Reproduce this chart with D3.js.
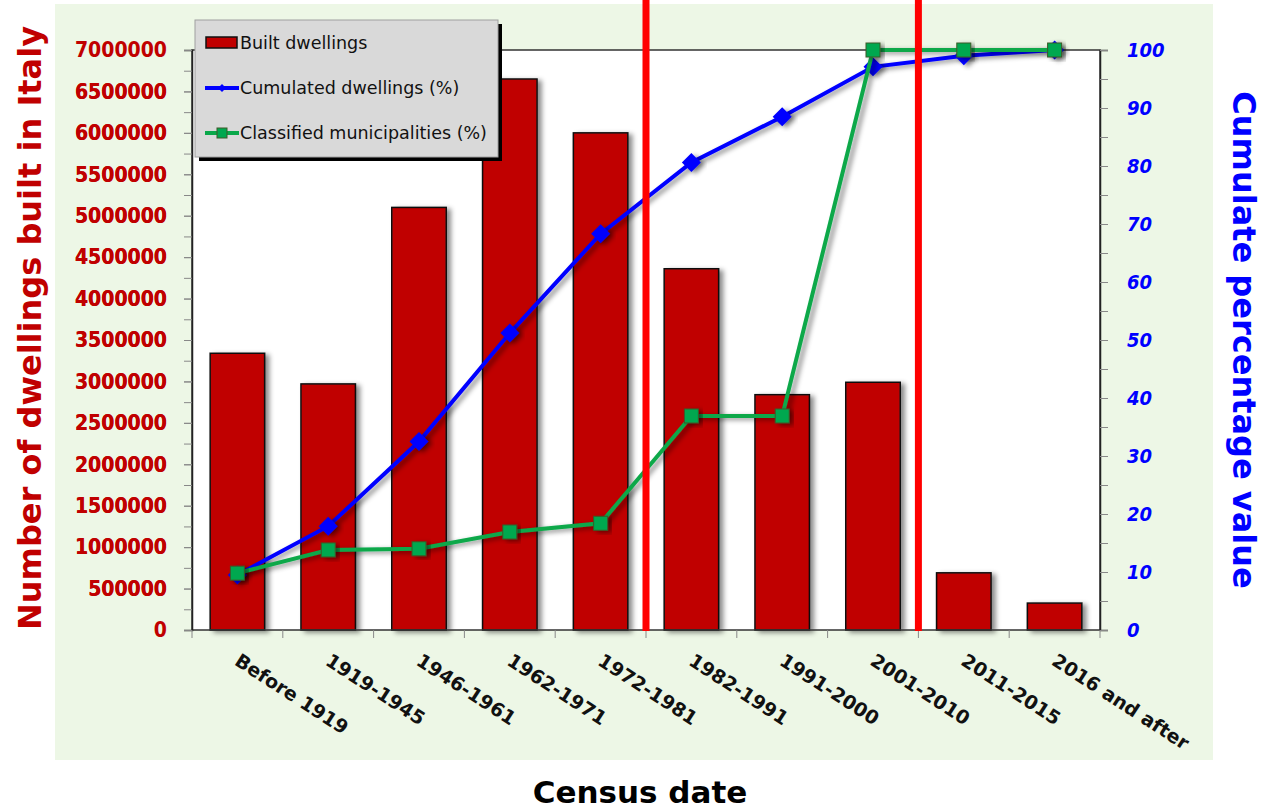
<!DOCTYPE html>
<html>
<head>
<meta charset="utf-8">
<script src="https://cdn.jsdelivr.net/npm/d3@7"></script>
<style>
  body { margin: 0; background: #ffffff; }
  svg { display: block; }
</style>
</head>
<body>
<svg id="chart" width="1263" height="810"></svg>
<script>
// Census periods (x categories)
const periods = ["Before 1919", "1919-1945", "1946-1961", "1962-1971", "1972-1981",
                 "1982-1991", "1991-2000", "2001-2010", "2011-2015", "2016 and after"];
// Dwellings built in each period
const builtDwellings = [3340000, 2970000, 5100000, 6650000, 6000000,
                        4360000, 2840000, 2990000, 690000, 325000];
// Cumulated share of dwellings (%)
const cumulatedPct = [9.5, 17.9, 32.5, 51.2, 68.3, 80.6, 88.5, 97.1, 99.0, 100];
// Share of classified municipalities (%)
const classifiedPct = [9.8, 13.8, 14.0, 16.9, 18.4, 36.9, 36.9, 100, 100, 100];
// Periods after which a red divider is drawn
const dividerAfter = ["1972-1981", "2001-2010"];
// Axis ticks
const leftTicks = [0, 500000, 1000000, 1500000, 2000000, 2500000, 3000000, 3500000,
                   4000000, 4500000, 5000000, 5500000, 6000000, 6500000, 7000000];
const rightTicks = [0, 10, 20, 30, 40, 50, 60, 70, 80, 90, 100];
// Legend entries
const legendLabels = ["Built dwellings", "Cumulated dwellings (%)", "Classified municipalities (%)"];

const svg = d3.select("#chart");
const plot = { left: 192, right: 1100, top: 50, bottom: 630 };

const x = d3.scaleBand().domain(periods).range([plot.left, plot.right]).padding(0);
const yL = d3.scaleLinear().domain([0, 7000000]).range([plot.bottom, plot.top]);
const yR = d3.scaleLinear().domain([0, 100]).range([plot.bottom, plot.top]);
const barW = x.bandwidth() * 0.6;
const cx = d => x(d) + x.bandwidth() / 2;

const defs = svg.append("defs");
const sh = defs.append("filter").attr("id", "shadow")
  .attr("x", "-30%").attr("y", "-30%").attr("width", "160%").attr("height", "160%");
sh.append("feDropShadow").attr("dx", 4).attr("dy", 2).attr("stdDeviation", 2.5)
  .attr("flood-color", "#000").attr("flood-opacity", 0.45);

// Outer panel
svg.append("rect").attr("x", 55).attr("y", 4).attr("width", 1158).attr("height", 756)
  .attr("fill", "#edf7e6");

// Plot area
svg.append("rect").attr("x", plot.left).attr("y", plot.top)
  .attr("width", plot.right - plot.left).attr("height", plot.bottom - plot.top)
  .attr("fill", "#ffffff");

// Bars
svg.append("g").selectAll("rect").data(periods).join("rect")
  .attr("x", d => cx(d) - barW / 2)
  .attr("y", (d, i) => yL(builtDwellings[i]))
  .attr("width", barW)
  .attr("height", (d, i) => plot.bottom - yL(builtDwellings[i]))
  .attr("fill", "#c00000").attr("stroke", "#111").attr("stroke-width", 1.5)
  .attr("filter", "url(#shadow)");

// Plot frame
svg.append("rect").attr("x", plot.left).attr("y", plot.top)
  .attr("width", plot.right - plot.left).attr("height", plot.bottom - plot.top)
  .attr("fill", "none").attr("stroke", "#333").attr("stroke-width", 1.5);

// Left axis
const minorL = d3.range(0, 28).map(i => i * 250000 + 250000).filter(v => v < 7000000);
const gL = svg.append("g").attr("transform", `translate(${plot.left},0)`)
  .call(d3.axisLeft(yL).tickValues(leftTicks.concat(minorL)).tickSize(8).tickPadding(17)
    .tickFormat(v => leftTicks.includes(v) ? String(v) : ""));
gL.select(".domain").attr("stroke", "#222").attr("stroke-width", 1.5);
gL.selectAll(".tick line").attr("stroke", "#888");
gL.selectAll(".tick text").attr("fill", "#c00000")
  .style("font-family", "'DejaVu Sans', sans-serif").style("font-weight", "bold")
  .style("font-size", "21px").style("font-stretch", "condensed");

// Right axis
const minorR = [5, 15, 25, 35, 45, 55, 65, 75, 85, 95];
const gR = svg.append("g").attr("transform", `translate(${plot.right},0)`)
  .call(d3.axisRight(yR).tickValues(rightTicks.concat(minorR)).tickSize(8).tickPadding(19)
    .tickFormat(v => rightTicks.includes(v) ? String(v) : ""));
gR.select(".domain").attr("stroke", "#222").attr("stroke-width", 1.5);
gR.selectAll(".tick line").attr("stroke", "#888");
gR.selectAll(".tick text").attr("fill", "#0000ff")
  .style("font-family", "'DejaVu Sans', sans-serif").style("font-weight", "bold")
  .style("font-style", "italic").style("font-size", "20px").style("font-stretch", "condensed");

// Bottom axis: ticks at category boundaries
const boundaries = periods.map(p => x(p)).concat([plot.right]);
svg.append("g").selectAll("line").data(boundaries).join("line")
  .attr("x1", d => d).attr("x2", d => d)
  .attr("y1", plot.bottom).attr("y2", plot.bottom + 8)
  .attr("stroke", "#888").attr("stroke-width", 1);

// Rotated category labels
svg.append("g").selectAll("text").data(periods).join("text")
  .attr("transform", d => `translate(${cx(d) - 4},${plot.bottom + 34}) rotate(33)`)
  .attr("text-anchor", "start")
  .style("font-family", "'DejaVu Sans', sans-serif").style("font-weight", "bold")
  .style("font-size", "19px")
  .attr("fill", "#111").text(d => d);

// Cumulated dwellings line
const lineFn = vals => d3.line().x((d, i) => cx(periods[i])).y((d, i) => yR(vals[i]))(vals);
svg.append("path").attr("d", lineFn(cumulatedPct))
  .attr("fill", "none").attr("stroke", "#0000ff").attr("stroke-width", 4)
  .attr("filter", "url(#shadow)");
svg.append("g").selectAll("path").data(cumulatedPct).join("path")
  .attr("d", d3.symbol(d3.symbolDiamond2, 230))
  .attr("transform", (d, i) => `translate(${cx(periods[i])},${yR(d)})`)
  .attr("fill", "#0000ff").attr("filter", "url(#shadow)");

// Classified municipalities line
svg.append("path").attr("d", lineFn(classifiedPct))
  .attr("fill", "none").attr("stroke", "#0aa84a").attr("stroke-width", 4)
  .attr("filter", "url(#shadow)");
svg.append("g").selectAll("rect").data(classifiedPct).join("rect")
  .attr("x", (d, i) => cx(periods[i]) - 7).attr("y", d => yR(d) - 7)
  .attr("width", 14).attr("height", 14)
  .attr("fill", "#00a84f").attr("stroke", "#3c5a28").attr("stroke-width", 1)
  .attr("filter", "url(#shadow)");

// Red period dividers
svg.append("g").selectAll("line").data(dividerAfter).join("line")
  .attr("x1", d => x(d) + x.bandwidth()).attr("x2", d => x(d) + x.bandwidth())
  .attr("y1", 0).attr("y2", plot.bottom + 1)
  .attr("stroke", "#ff0000").attr("stroke-width", 7);

// Legend
const lg = svg.append("g").attr("transform", "translate(195,20)");
lg.append("rect").attr("x", 4).attr("y", 4).attr("width", 303).attr("height", 137).attr("fill", "#000");
lg.append("rect").attr("width", 303).attr("height", 137)
  .attr("fill", "#d9d9d9").attr("stroke", "#a0a0a0").attr("stroke-width", 1);
const rowY = [23, 68, 113];
lg.append("rect").attr("x", 11).attr("y", rowY[0] - 6).attr("width", 31).attr("height", 11)
  .attr("fill", "#c00000").attr("stroke", "#111").attr("stroke-width", 1.5);
lg.append("line").attr("x1", 10).attr("x2", 44).attr("y1", rowY[1]).attr("y2", rowY[1])
  .attr("stroke", "#0000ff").attr("stroke-width", 4);
lg.append("path").attr("d", d3.symbol(d3.symbolDiamond2, 40))
  .attr("transform", `translate(27,${rowY[1]})`).attr("fill", "#0000ff");
lg.append("line").attr("x1", 10).attr("x2", 44).attr("y1", rowY[2]).attr("y2", rowY[2])
  .attr("stroke", "#0aa84a").attr("stroke-width", 4);
lg.append("rect").attr("x", 22).attr("y", rowY[2] - 5).attr("width", 10).attr("height", 10)
  .attr("fill", "#00a84f").attr("stroke", "#3c5a28").attr("stroke-width", 1);
lg.selectAll("text.lab").data(legendLabels).join("text").attr("class", "lab")
  .attr("x", 45).attr("y", (d, i) => rowY[i]).attr("dy", "0.35em")
  .style("font-family", "'DejaVu Sans', sans-serif").style("font-size", "17.5px")
  .attr("fill", "#111").text(d => d);

// Axis titles
svg.append("text").attr("transform", "translate(41,328) rotate(-90)")
  .attr("text-anchor", "middle")
  .style("font-family", "'DejaVu Sans', sans-serif").style("font-weight", "bold")
  .style("font-size", "32px").attr("fill", "#c00000")
  .text("Number of dwellings built in Italy");
svg.append("text").attr("transform", "translate(1233,340) rotate(90)")
  .attr("text-anchor", "middle")
  .style("font-family", "'DejaVu Sans', sans-serif").style("font-weight", "bold")
  .style("font-size", "32px").attr("fill", "#0000ff")
  .text("Cumulate percentage value");
svg.append("text").attr("x", 640).attr("y", 803)
  .attr("text-anchor", "middle")
  .style("font-family", "'DejaVu Sans', sans-serif").style("font-weight", "bold")
  .style("font-size", "31px").attr("fill", "#000")
  .text("Census date");
</script>
</body>
</html>
